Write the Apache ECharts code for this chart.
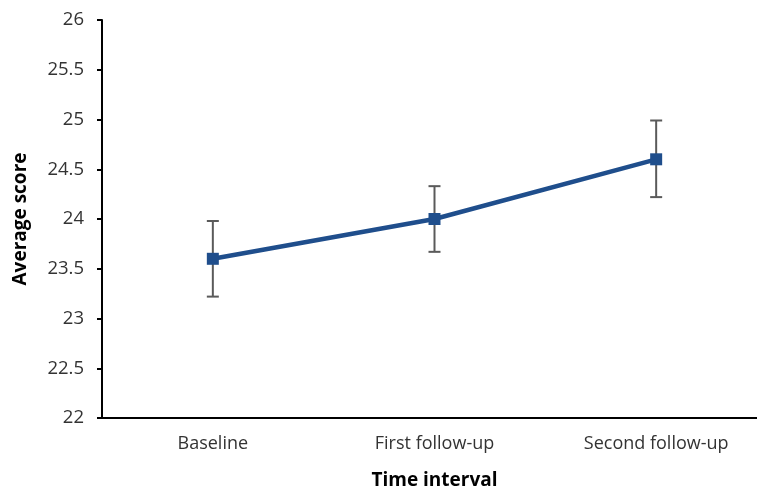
<!DOCTYPE html>
<html>
<head>
<meta charset="utf-8">
<script src="https://cdn.jsdelivr.net/npm/echarts@6/dist/echarts.min.js"></script>
<style>
  html, body { margin: 0; padding: 0; background: #fff; }
  #chart { width: 757px; height: 494px; }
</style>
</head>
<body>
<div id="chart"></div>
<script>
// Time points and mean scores with their error margins
const categories = ['Baseline', 'First follow-up', 'Second follow-up'];
const means = [23.6, 24.0, 24.6];
const errLow = [23.22, 23.67, 24.22];
const errHigh = [23.98, 24.33, 24.99];

const FONT = '"Open Sans", "Noto Sans", sans-serif';

const errorData = categories.map((c, i) => [i, errLow[i], errHigh[i]]);

const chart = echarts.init(document.getElementById('chart'));
chart.setOption({
  animation: false,
  // plot area runs past the right edge of the canvas
  grid: { left: 102, top: 20, width: 665, height: 398, outerBoundsMode: 'none', containLabel: false },
  xAxis: {
    type: 'category',
    data: categories,
    boundaryGap: true,
    name: 'Time interval',
    nameLocation: 'middle',
    nameGap: 53,
    nameTextStyle: { fontFamily: FONT, fontSize: 19, fontWeight: 'bold', color: '#000' },
    axisLine: { lineStyle: { color: '#000', width: 2 } },
    axisTick: { show: false },
    axisLabel: { fontFamily: FONT, fontSize: 18, color: '#333', margin: 17 }
  },
  yAxis: {
    type: 'value',
    min: 22,
    max: 26,
    interval: 0.5,
    name: 'Average score',
    nameLocation: 'middle',
    nameGap: 72,
    nameTextStyle: { fontFamily: FONT, fontSize: 19, fontWeight: 'bold', color: '#000' },
    axisLine: { show: true, lineStyle: { color: '#000', width: 2 } },
    axisTick: { show: true, length: 5, lineStyle: { color: '#000', width: 2 } },
    axisLabel: { fontFamily: FONT, fontSize: 18.5, color: '#333', margin: 18 },
    splitLine: { show: false }
  },
  series: [
    {
      type: 'line',
      data: means,
      symbol: 'rect',
      symbolSize: 12,
      lineStyle: { color: '#1f4e8c', width: 4.5 },
      itemStyle: { color: '#1f4e8c' },
      z: 3
    },
    {
      type: 'custom',
      data: errorData,
      z: 2,
      renderItem: function (params, api) {
        const x = api.value(0);
        const lo = api.coord([x, api.value(1)]);
        const hi = api.coord([x, api.value(2)]);
        const half = 6;
        const style = { stroke: '#5a5a5a', lineWidth: 2 };
        return {
          type: 'group',
          children: [
            { type: 'line', shape: { x1: hi[0], y1: hi[1], x2: lo[0], y2: lo[1] }, style: style },
            { type: 'line', shape: { x1: hi[0] - half, y1: hi[1], x2: hi[0] + half, y2: hi[1] }, style: style },
            { type: 'line', shape: { x1: lo[0] - half, y1: lo[1], x2: lo[0] + half, y2: lo[1] }, style: style }
          ]
        };
      }
    }
  ]
});
</script>
</body>
</html>
